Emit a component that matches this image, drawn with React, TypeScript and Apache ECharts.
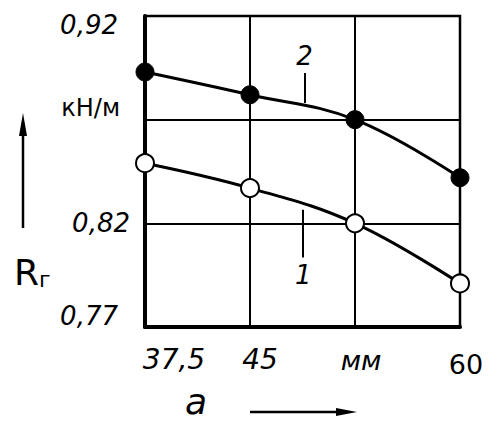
import React, { useEffect, useRef } from "react";
import * as echarts from "echarts";

// Data
const xValues = [37.5, 45, 52.5, 60];
const xTickLabels = ["37,5", "45", "мм", "60"];
const yBase = 0.77;
const yTickLabels = ["0,77", "0,82", "кН/м", "0,92"];
const curve1 = [0.849, 0.837, 0.82, 0.791]; // open circles
const curve2 = [0.893, 0.882, 0.87, 0.842]; // filled circles
const leader2 = { x: 48.9, from: 0.8925, to: 0.878, label: "2" };
const leader1 = { x: 48.8, from: 0.8265, to: 0.8035, label: "1" };

const FONT = "DejaVu Sans";

export default function App() {
  const ref = useRef<HTMLDivElement>(null);
  useEffect(() => {
    if (!ref.current) return;
    const chart = echarts.init(ref.current, null, { renderer: "svg" });
    const toPts = (arr: number[]) => arr.map((v, i) => [xValues[i], +(v - yBase).toFixed(4)]);
    const leaderLine = (l: typeof leader1, pos: string) => ({
      silent: true,
      symbol: ["none", "none"],
      lineStyle: { color: "#000", width: 2, type: "solid" },
      label: {
        show: true,
        position: pos,
        formatter: l.label,
        color: "#000",
        fontFamily: FONT,
        fontStyle: "italic",
        fontSize: 26,
        distance: 4,
      },
      emphasis: { disabled: true },
      data: [[{ coord: [l.x, l.from - yBase] }, { coord: [l.x, l.to - yBase] }]],
    });
    chart.setOption({
      animation: false,
      backgroundColor: "#fff",
      grid: {
        left: 145,
        right: 36,
        top: 16,
        bottom: 96,
        show: true,
        borderColor: "#000",
        borderWidth: 2.5,
        backgroundColor: "transparent",
      },
      xAxis: {
        type: "value",
        min: 37.5,
        max: 60,
        interval: 7.5,
        axisLine: { show: true, lineStyle: { color: "#000", width: 4 } },
        axisTick: { show: false },
        splitLine: { show: true, lineStyle: { color: "#000", width: 2 } },
        axisLabel: {
          margin: 18,
          color: "#000",
          fontFamily: FONT,
          fontSize: 28,
          formatter: (v: number) => {
            const i = Math.round((v - 37.5) / 7.5);
            const styles = ["a", "b", "c", "d"];
            return `{${styles[i]}|${xTickLabels[i]}}`;
          },
          rich: {
            a: { fontFamily: FONT, fontSize: 28, fontStyle: "italic", color: "#000", padding: [0, 0, 0, 58] },
            b: { fontFamily: FONT, fontSize: 28, fontStyle: "italic", color: "#000", padding: [0, 0, 0, 20] },
            c: { fontFamily: FONT, fontSize: 27, fontStyle: "italic", color: "#000", padding: [2, 0, 0, 12] },
            d: { fontFamily: FONT, fontSize: 27, color: "#000", padding: [6, 0, 0, 12] },
          },
        },
      },
      yAxis: {
        type: "value",
        min: 0,
        max: 0.15,
        interval: 0.05,
        axisLine: { show: true, lineStyle: { color: "#000", width: 4 } },
        axisTick: { show: false },
        splitLine: { show: true, lineStyle: { color: "#000", width: 2 } },
        axisLabel: {
          margin: 14,
          color: "#000",
          formatter: (v: number) => {
            const i = Math.round(v / 0.05);
            const styles = ["p", "q", "r", "s"];
            return `{${styles[i]}|${yTickLabels[i]}}`;
          },
          rich: {
            p: { fontFamily: FONT, fontSize: 26, fontStyle: "italic", color: "#000", padding: [0, 13, 22, 0] },
            q: { fontFamily: FONT, fontSize: 26, fontStyle: "italic", color: "#000", padding: [0, 1, 0, 0] },
            r: { fontFamily: FONT, fontSize: 24, color: "#000", padding: [0, 11, 24, 0] },
            s: { fontFamily: FONT, fontSize: 26, fontStyle: "italic", color: "#000", padding: [18, 13, 0, 0] },
          },
        },
      },
      series: [
        {
          type: "line",
          data: toPts(curve2),
          smooth: 0.4,
          symbol: "circle",
          symbolSize: 18,
          itemStyle: { color: "#000", borderColor: "#000", borderWidth: 1 },
          lineStyle: { color: "#000", width: 3 },
          clip: false,
          markLine: leaderLine(leader2, "start"),
        },
        {
          type: "line",
          data: toPts(curve1),
          smooth: 0.4,
          symbol: "circle",
          symbolSize: 18,
          itemStyle: { color: "#fff", borderColor: "#000", borderWidth: 2 },
          lineStyle: { color: "#000", width: 3 },
          clip: false,
          markLine: leaderLine(leader1, "end"),
        },
      ],
      graphic: [
        { type: "line", shape: { x1: 23, y1: 228, x2: 23, y2: 125 }, style: { stroke: "#000", lineWidth: 2.5 } },
        { type: "polygon", shape: { points: [[23, 113], [19, 136], [27, 136]] }, style: { fill: "#000" } },
        { type: "line", shape: { x1: 250, y1: 412, x2: 345, y2: 412 }, style: { stroke: "#000", lineWidth: 2.5 } },
        { type: "polygon", shape: { points: [[357, 412], [336, 408], [336, 416]] }, style: { fill: "#000" } },
        {
          type: "text",
          left: 185,
          top: 383,
          style: { text: "a", fontFamily: FONT, fontSize: 36, fontStyle: "italic", fill: "#000" },
        },
        {
          type: "text",
          left: 14,
          top: 254,
          style: {
            text: "{r|R}{s|г}",
            rich: {
              r: { fontFamily: FONT, fontSize: 36, fill: "#000", verticalAlign: "bottom" },
              s: { fontFamily: FONT, fontSize: 22, fill: "#000", verticalAlign: "bottom" },
            },
          },
        },
      ],
    });
    return () => chart.dispose();
  }, []);
  return <div ref={ref} style={{ width: 496, height: 423, position: "absolute", left: 0, top: 0 }} />;
}
